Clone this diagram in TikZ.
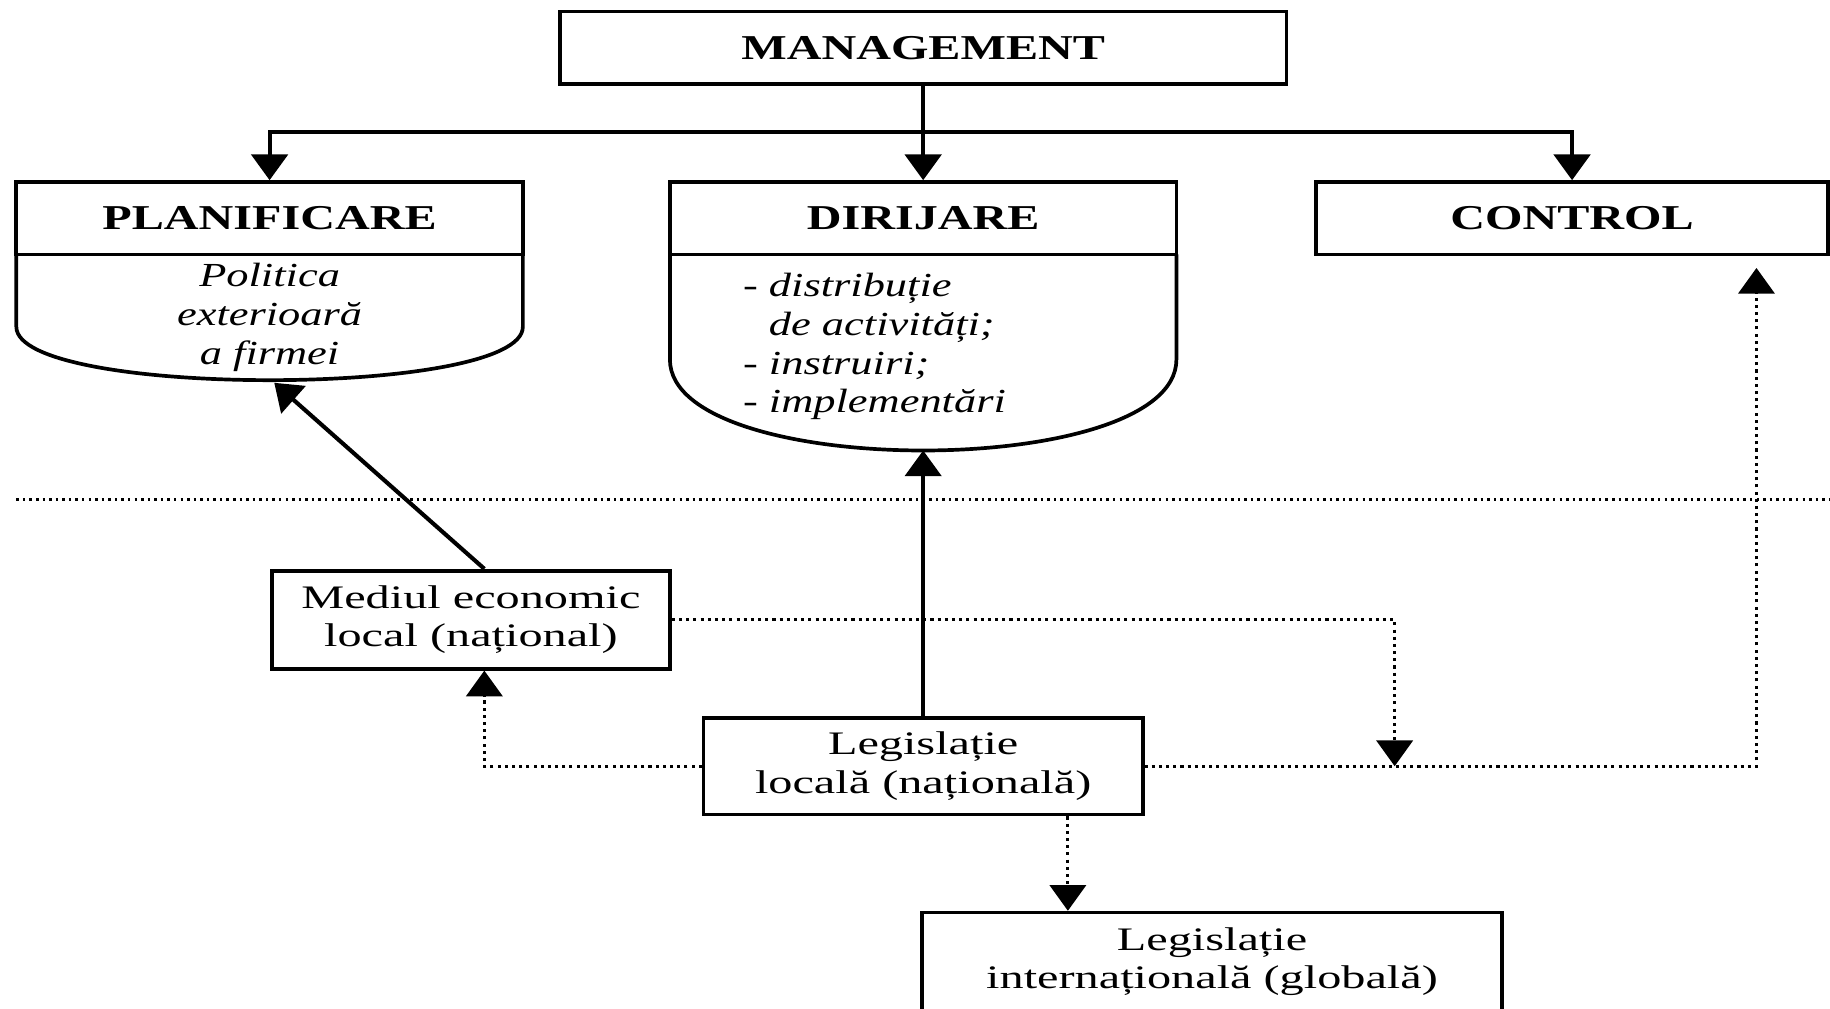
\documentclass[tikz,border=0pt]{standalone}
\usepackage{fontspec}
\setmainfont{Liberation Serif}
\newfontfamily\regfont{Liberation Serif}[FakeStretch=1.47]
\newfontfamily\ttlfont{Liberation Serif}[FakeStretch=1.38]
\newfontfamily\itfont{Liberation Serif}[FakeStretch=1.32]
\usetikzlibrary{arrows.meta}
\begin{document}
\begin{tikzpicture}[x=0.01cm,y=-0.01cm,
  box/.style={draw,line width=0.9pt,rectangle,inner sep=0pt,align=center},
  title/.style={box,minimum height=0.62cm,font={\ttlfont\bfseries\fontsize{8.5}{10}\selectfont}},
  lowbox/.style={box,font={\regfont\fontsize{8}{9.4}\selectfont}},
  itxt/.style={inner sep=0pt,font={\itfont\itshape\fontsize{8.2}{9.4}\selectfont}},
  body/.style={line width=0.9pt},
  tip/.style={-{Triangle[width=0.31cm,length=0.22cm]}},
  arr/.style={line width=1pt,tip},
  dotarr/.style={line width=0.75pt,densely dotted,tip},
  sep/.style={line width=0.6pt,densely dotted}
]
\path[use as bounding box] (0,0) rectangle (1568,864);
\clip (0,0) rectangle (1568,864);

% top level
\node[title,minimum width=6.22cm] (mgmt) at (791,41) {MANAGEMENT};
\node[title,minimum width=4.34cm] (plan) at (231,187) {PLANIFICARE};
\node[title,minimum width=4.34cm] (dir) at (791,187) {DIRIJARE};
\node[title,minimum width=4.38cm] (ctrl) at (1347,187) {CONTROL};

% bodies of the shield shapes
\draw[body] (14,218) -- (14,280) .. controls (14,341) and (448,341) .. (448,280) -- (448,218);
\draw[body] (574,218) -- (574,308) .. controls (574,412) and (1008,412) .. (1008,308) -- (1008,218);

\node[itxt,align=center] (plantxt) at (231,272) {Politica\\exterioară\\a firmei};
\node[itxt,align=left,anchor=west] (dirtxt) at (636,297) {- distribuție\\\phantom{- }de activități;\\- instruiri;\\- implementări};

% separator
\draw[sep] (14,428) -- (1568,428);

% lower boxes
\node[lowbox,minimum width=3.41cm,minimum height=0.84cm] (med) at (403.5,531) {Mediul economic\\local (național)};
\node[lowbox,minimum width=3.76cm,minimum height=0.83cm] (lloc) at (791,656.5) {Legislație\\locală (națională)};
\node[lowbox,minimum width=4.97cm,minimum height=0.84cm] (lint) at (1038.5,824) {Legislație\\internațională (globală)};

% helper coordinates
\coordinate (bus) at (791,113);
\coordinate (planbot) at (235,328);
\coordinate (dirbot) at (791,386);
\coordinate (mx) at (415,0);
\coordinate (jx) at (1195,0);
\coordinate (cx) at (1505,0);
\coordinate (lx) at (915,0);

% connectors
\draw[arr] (mgmt.south) -- (dir.north);
\draw[arr] (bus) -| (plan.north);
\draw[arr] (bus) -| (ctrl.north);
\draw[arr] (med.north -| mx) -- (planbot);
\draw[arr] (lloc.north) -- (dirbot);
\draw[dotarr] (lloc.west) -| (med.south -| mx);
\draw[dotarr] (med.east) -| (lloc.east -| jx);
\draw[dotarr,shorten >=0.1cm] (lloc.east) -| (ctrl.south -| cx);
\draw[dotarr] (lloc.south -| lx) -- (lint.north -| lx);
\end{tikzpicture}
\end{document}
